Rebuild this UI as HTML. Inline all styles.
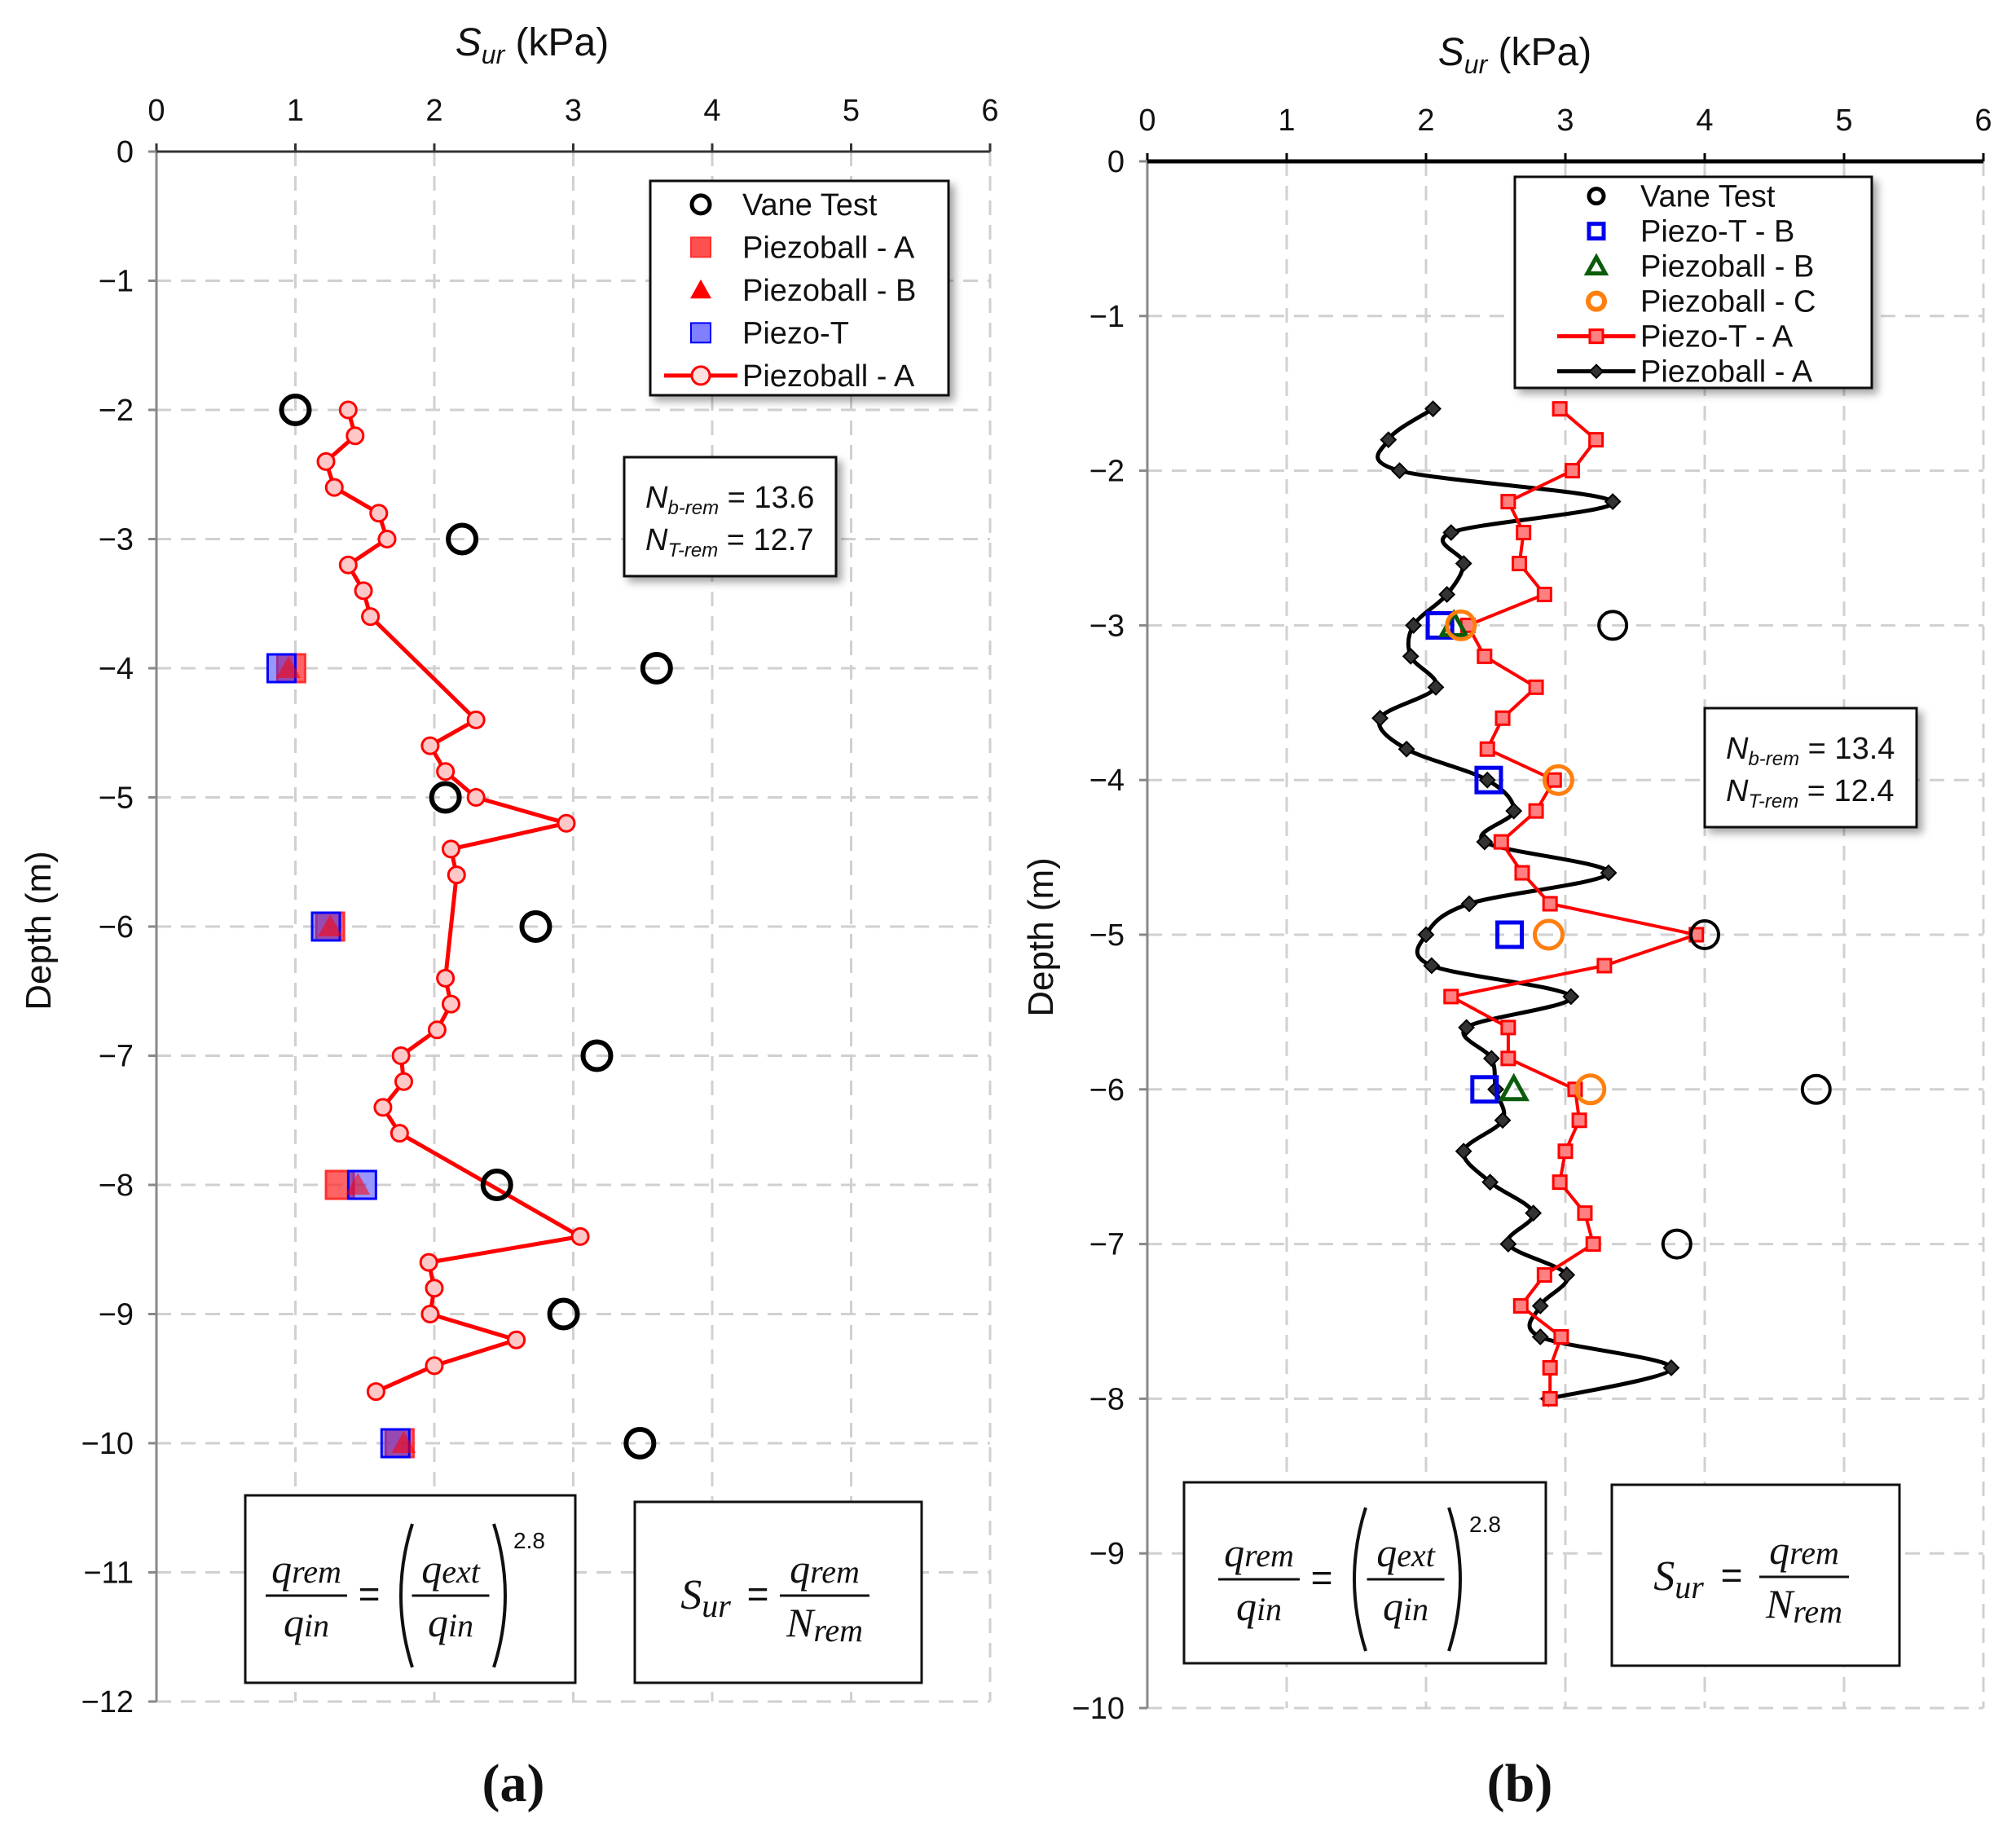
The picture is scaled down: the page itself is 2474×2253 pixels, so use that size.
<!DOCTYPE html>
<html><head><meta charset="utf-8"><style>
html,body{margin:0;padding:0;background:#fff}
svg{display:block}
text{font-family:"Liberation Sans",Arial,sans-serif;fill:#111}
.m{font-family:"Liberation Serif",serif;font-style:italic}
</style></head><body>
<svg id="fig" width="2474" height="2253" viewBox="0 0 2474 2253" xmlns="http://www.w3.org/2000/svg">
<defs>
<filter id="sh" x="-10%" y="-10%" width="130%" height="130%"><feDropShadow dx="6" dy="6" stdDeviation="5" flood-color="#000" flood-opacity="0.35"/></filter>
</defs>
<g id="pa"></g>
<g id="pb"></g>
</svg>
<script>
// ---------- Panel (a) data ----------
const aLineX = [1.38,1.43,1.22,1.28,1.60,1.66,1.38,1.49,1.54,2.30,1.97,2.08,2.30,2.95,2.12,2.16,2.08,2.12,2.02,1.76,1.78,1.63,1.75,3.05,1.96,2.00,1.97,2.59,2.00,1.58];
const aLineD = [-2.0,-2.2,-2.4,-2.6,-2.8,-3.0,-3.2,-3.4,-3.6,-4.4,-4.6,-4.8,-5.0,-5.2,-5.4,-5.6,-6.4,-6.6,-6.8,-7.0,-7.2,-7.4,-7.6,-8.4,-8.6,-8.8,-9.0,-9.2,-9.4,-9.6];
const aVaneX = [1.0,2.2,3.6,2.08,2.73,3.17,2.45,2.93,3.48];
const aVaneD = [-2,-3,-4,-5,-6,-7,-8,-9,-10];
const aPbAX = [0.97,1.25,1.32,1.75];
const aPbAD = [-4,-6,-8,-10];
const aPtX = [0.90,1.22,1.48,1.72];
const aPtD = [-4,-6,-8,-10];
const aPbBX = [0.95,1.25,1.45,1.78];
const aPbBD = [-4,-6,-8,-10];
const aXTicks = [0,1,2,3,4,5,6];
const aYTicks = [0,-1,-2,-3,-4,-5,-6,-7,-8,-9,-10,-11,-12];
// ---------- Panel (b) data ----------
const bRedX = [2.96,3.22,3.05,2.59,2.70,2.67,2.85,2.30,2.42,2.79,2.55,2.44,2.92,2.79,2.54,2.69,2.89,3.94,3.28,2.18,2.59,2.59,3.07,3.10,3.00,2.96,3.14,3.20,2.85,2.68,2.97,2.89,2.89];
const bRedD = [-1.6,-1.8,-2.0,-2.2,-2.4,-2.6,-2.8,-3.0,-3.2,-3.4,-3.6,-3.8,-4.0,-4.2,-4.4,-4.6,-4.8,-5.0,-5.2,-5.4,-5.6,-5.8,-6.0,-6.2,-6.4,-6.6,-6.8,-7.0,-7.2,-7.4,-7.6,-7.8,-8.0];
const bBlkX = [2.05,1.73,1.81,3.34,2.18,2.27,2.15,1.91,1.89,2.07,1.67,1.86,2.44,2.63,2.42,3.31,2.31,2.00,2.04,3.04,2.29,2.47,2.50,2.55,2.27,2.46,2.77,2.59,3.01,2.82,2.82,3.76,2.88];
const bBlkD = [-1.6,-1.8,-2.0,-2.2,-2.4,-2.6,-2.8,-3.0,-3.2,-3.4,-3.6,-3.8,-4.0,-4.2,-4.4,-4.6,-4.8,-5.0,-5.2,-5.4,-5.6,-5.8,-6.0,-6.2,-6.4,-6.6,-6.8,-7.0,-7.2,-7.4,-7.6,-7.8,-8.0];
const bVaneX = [3.34,4.0,4.8,3.8];
const bVaneD = [-3,-5,-6,-7];
const bPtBX = [2.10,2.45,2.60,2.42];
const bPtBD = [-3,-4,-5,-6];
const bPbBX = [2.20,2.63];
const bPbBD = [-3,-6];
const bPbCX = [2.25,2.95,2.88,3.18];
const bPbCD = [-3,-4,-5,-6];
const bXTicks = [0,1,2,3,4,5,6];
const bYTicks = [0,-1,-2,-3,-4,-5,-6,-7,-8,-9,-10];

const NS='http://www.w3.org/2000/svg';
function mk(parent,tag,attrs,txt){const e=document.createElementNS(NS,tag);for(const k in attrs)e.setAttribute(k,attrs[k]);if(txt!==undefined)e.textContent=txt;parent.appendChild(e);return e;}

const A={x0:192,x1:1215,y0:186,yu:158.5,xmin:0,xmax:6};
const B={x0:1408,x1:2434,y0:198,yu:189.8,xmin:0,xmax:6};
function sx(P,v){return P.x0+(v-P.xmin)/(P.xmax-P.xmin)*(P.x1-P.x0);}
function sy(P,d){return P.y0-d*P.yu;}

function axes(g,P,xt,yt,ymin,topColor,topW){
  const grid=mk(g,'g',{});
  
  
  const yb=sy(P,ymin);
  xt.forEach(v=>{ if(v>0) mk(grid,'line',{x1:sx(P,v),x2:sx(P,v),y1:P.y0,y2:yb,stroke:'#d0d0d0','stroke-width':3,'stroke-dasharray':'18 12'});});
  yt.forEach(v=>{ if(v<0) mk(grid,'line',{x1:P.x0,x2:P.x1,y1:sy(P,v),y2:sy(P,v),stroke:'#d0d0d0','stroke-width':3,'stroke-dasharray':'18 12'});});
  const ya=mk(g,'line',{x1:P.x0,x2:P.x0,y1:P.y0,y2:yb,stroke:'#888','stroke-width':3});
  
  
  const xa=mk(g,'line',{x1:P.x0,x2:P.x1,y1:P.y0,y2:P.y0,stroke:topColor,'stroke-width':topW});
  
  
  xt.forEach(v=>{
    mk(g,'line',{x1:sx(P,v),x2:sx(P,v),y1:P.y0-10,y2:P.y0,stroke:topColor,'stroke-width':3});
    const t=mk(g,'text',{x:sx(P,v),y:P.y0-38,'text-anchor':'middle','font-size':38},String(v));
    
    
  });
  yt.forEach(v=>{
    mk(g,'line',{x1:P.x0-10,x2:P.x0,y1:sy(P,v),y2:sy(P,v),stroke:'#888','stroke-width':3});
    const t=mk(g,'text',{x:P.x0-28,y:sy(P,v)+13,'text-anchor':'end','font-size':38},v<0?'\u2212'+(-v):'0');
    
    
  });
}
function title(g,x,y){
  const t=mk(g,'text',{x:x,y:y,'text-anchor':'middle','font-size':48});
  
  
  mk(t,'tspan',{'font-style':'italic'},'S');
  mk(t,'tspan',{'font-style':'italic','font-size':32,dy:10},'ur');
  mk(t,'tspan',{dy:-10},' (kPa)');
}
function ylab(g,x,y){
  const t=mk(g,'text',{x:x,y:y,'text-anchor':'middle','font-size':44,transform:`rotate(-90 ${x} ${y})`},'Depth (m)');
  
  
}
function polyPath(P,xs,ds){return xs.map((v,i)=>(i?'L':'M')+sx(P,v).toFixed(1)+' '+sy(P,ds[i]).toFixed(1)).join(' ');}
function smoothPath(P,xs,ds){
  const p=xs.map((v,i)=>[sx(P,v),sy(P,ds[i])]);
  let s='M'+p[0][0]+' '+p[0][1];
  for(let i=0;i<p.length-1;i++){
    const p0=p[i-1]||p[i],p1=p[i],p2=p[i+1],p3=p[i+2]||p2;
    const c1=[p1[0]+(p2[0]-p0[0])/6,p1[1]+(p2[1]-p0[1])/6];
    const c2=[p2[0]-(p3[0]-p1[0])/6,p2[1]-(p3[1]-p1[1])/6];
    s+=` C${c1[0].toFixed(1)} ${c1[1].toFixed(1)} ${c2[0].toFixed(1)} ${c2[1].toFixed(1)} ${p2[0].toFixed(1)} ${p2[1].toFixed(1)}`;
  }
  return s;
}
function marker(g,type,x,y,o){
  let e;
  if(type==='circle') e=mk(g,'circle',{cx:x,cy:y,r:o.r,fill:o.fill,stroke:o.stroke,'stroke-width':o.sw,'fill-opacity':o.fo||1});
  else if(type==='square') e=mk(g,'rect',{x:x-o.r,y:y-o.r,width:2*o.r,height:2*o.r,fill:o.fill,stroke:o.stroke,'stroke-width':o.sw,'fill-opacity':o.fo||1});
  else if(type==='tri') e=mk(g,'polygon',{points:`${x},${y-o.r} ${x+o.r},${y+o.r*0.8} ${x-o.r},${y+o.r*0.8}`,fill:o.fill,stroke:o.stroke,'stroke-width':o.sw,'fill-opacity':o.fo||1});
  else if(type==='diamond') e=mk(g,'polygon',{points:`${x},${y-o.r} ${x+o.r},${y} ${x},${y+o.r} ${x-o.r},${y}`,fill:o.fill,stroke:o.stroke,'stroke-width':o.sw});
  return e;
}
function series(g,P,name,xs,ds,type,o){
  const s=mk(g,'g',{});
  
  
  xs.forEach((v,i)=>{
    const m=marker(s,type,sx(P,v),sy(P,ds[i]),o);
    
    
  });
  return s;
}
function legend(g,x,y,w,h,entries,rowH,fs,mOff,tOff,lineHalf){
  const L=mk(g,'g',{});
  
  
  mk(L,'rect',{x:x,y:y,width:w,height:h,fill:'#fff',stroke:'#111','stroke-width':3,filter:'url(#sh)'});
  entries.forEach((e,i)=>{
    const cy=y+rowH*0.55+i*rowH, mx=x+mOff;
    const eg=mk(L,'g',{});
    
    
    if(e.line) mk(eg,'line',{x1:mx-lineHalf,x2:mx+lineHalf,y1:cy,y2:cy,stroke:e.line,'stroke-width':5});
    marker(eg,e.type,mx,cy,e.o);
    mk(eg,'text',{x:x+tOff,y:cy+13,'font-size':fs},e.label);
  });
}
function nbox(g,x,y,w,h,v1,v2){
  const N=mk(g,'g',{});
  
  
  mk(N,'rect',{x:x,y:y,width:w,height:h,fill:'#fff',stroke:'#111','stroke-width':3,filter:'url(#sh)'});
  [['b-rem',v1],['T-rem',v2]].forEach((r,i)=>{
    const t=mk(N,'text',{x:x+26,y:y+62+i*52,'font-size':38});
    mk(t,'tspan',{'font-style':'italic'},'N');
    mk(t,'tspan',{'font-style':'italic','font-size':24,dy:8},r[0]);
    mk(t,'tspan',{dy:-8},' = '+r[1]);
  });
}
function frac(g,cx,cy,num,nsub,den,dsub,w){
  mk(g,'line',{x1:cx-w/2,x2:cx+w/2,y1:cy,y2:cy,stroke:'#111','stroke-width':3});
  const t1=mk(g,'text',{x:cx,y:cy-16,'text-anchor':'middle','font-size':50,class:'m'});
  mk(t1,'tspan',{},num);mk(t1,'tspan',{'font-size':40},nsub);
  const t2=mk(g,'text',{x:cx,y:cy+50,'text-anchor':'middle','font-size':50,class:'m'});
  mk(t2,'tspan',{},den);mk(t2,'tspan',{'font-size':40,dy:den==='N'?6:0},dsub);
}
function formulas(g,b1,b2,c1,c2){
  const F1=mk(g,'g',{});
  
  
  mk(F1,'rect',{x:b1[0],y:b1[1],width:b1[2],height:b1[3],fill:'#fff',stroke:'#111','stroke-width':3});
  const cy=c1.cy;
  frac(F1,c1.f1,cy,'q','rem','q','in',100);
  mk(F1,'text',{x:c1.eq,y:cy+14,'text-anchor':'middle','font-size':46},'=');
  mk(F1,'path',{d:`M${c1.p1+14} ${cy-88} Q${c1.p1-14} ${cy} ${c1.p1+14} ${cy+88}`,fill:'none',stroke:'#111','stroke-width':4});
  mk(F1,'path',{d:`M${c1.p2-14} ${cy-88} Q${c1.p2+14} ${cy} ${c1.p2-14} ${cy+88}`,fill:'none',stroke:'#111','stroke-width':4});
  frac(F1,c1.f2,cy,'q','ext','q','in',95);
  mk(F1,'text',{x:c1.ex,y:c1.ey,'font-size':28},'2.8');
  const F2=mk(g,'g',{});
  
  
  mk(F2,'rect',{x:b2[0],y:b2[1],width:b2[2],height:b2[3],fill:'#fff',stroke:'#111','stroke-width':3});
  const t=mk(F2,'text',{x:c2.s,y:c2.cy+16,'text-anchor':'middle','font-size':52,class:'m'});
  mk(t,'tspan',{},'S');mk(t,'tspan',{'font-size':40,dy:10},'ur');
  mk(F2,'text',{x:c2.eq,y:c2.cy+14,'text-anchor':'middle','font-size':46},'=');
  frac(F2,c2.f,c2.cy,'q','rem','N','rem',110);
}
function plabel(g,x,y,s){
  const t=mk(g,'text',{x:x,y:y,'text-anchor':'middle','font-size':66,'font-weight':'bold'},s);
  t.style.fontFamily='"Liberation Serif",serif';
  
  
}

// ---------- Panel (a) ----------
const ga=document.getElementById('pa');
title(ga,653,68);
ylab(ga,62,1142);
axes(ga,A,aXTicks,aYTicks,-12,'#333',3);
const red='#ff0000';
const la=mk(ga,'path',{d:polyPath(A,aLineX,aLineD),fill:'none',stroke:red,'stroke-width':5,'stroke-linejoin':'round'});


series(ga,A,'piezoball-a-line-markers',aLineX,aLineD,'circle',{r:10,fill:'#ffc8c8',stroke:red,sw:3});
series(ga,A,'vane-test',aVaneX,aVaneD,'circle',{r:17,fill:'none',stroke:'#000',sw:6});
series(ga,A,'piezoball-a-points',aPbAX,aPbAD,'square',{r:17,fill:'#ff3030',stroke:'#ff3030',sw:3,fo:0.75});
series(ga,A,'piezo-t-points',aPtX,aPtD,'square',{r:17,fill:'#3030ff',stroke:'#0000ff',sw:3,fo:0.5});
series(ga,A,'piezoball-b-points',aPbBX,aPbBD,'tri',{r:15,fill:'#ff0000',stroke:'none',sw:0,fo:0.55});
legend(ga,798,222,366,263,[
 {type:'circle',o:{r:11,fill:'none',stroke:'#000',sw:5},label:'Vane Test'},
 {type:'square',o:{r:12,fill:'#ff5050',stroke:'#ff3030',sw:2},label:'Piezoball - A'},
 {type:'tri',o:{r:13,fill:'#ff0000',stroke:'none',sw:0},label:'Piezoball - B'},
 {type:'square',o:{r:12,fill:'#8080ff',stroke:'#0000ff',sw:2},label:'Piezo-T'},
 {type:'circle',line:red,o:{r:11,fill:'#ffe0e0',stroke:red,sw:3},label:'Piezoball - A'}
],52.5,38,62,113,45);
nbox(ga,766,561,260,146,'13.6','12.7');
formulas(ga,[301,1835,405,230],[779,1843,352,222],
 {cy:1958,f1:376,eq:453,p1:492,p2:620,f2:553,ex:630,ey:1900},
 {cy:1958,s:866,eq:930,f:1012});
plabel(ga,630,2210,'(a)');

// ---------- Panel (b) ----------
const gb=document.getElementById('pb');
title(gb,1859,80);
ylab(gb,1292,1150);
axes(gb,B,bXTicks,bYTicks,-10,'#000',5);
const lb=mk(gb,'path',{d:smoothPath(B,bBlkX,bBlkD),fill:'none',stroke:'#000','stroke-width':5});


series(gb,B,'piezoball-a-markers',bBlkX,bBlkD,'diamond',{r:9,fill:'#333',stroke:'#000',sw:2});
const lr=mk(gb,'path',{d:polyPath(B,bRedX,bRedD),fill:'none',stroke:red,'stroke-width':4,'stroke-linejoin':'round'});


series(gb,B,'piezo-t-a-markers',bRedX,bRedD,'square',{r:8,fill:'#ff8080',stroke:red,sw:3});
series(gb,B,'vane-test',bVaneX,bVaneD,'circle',{r:17,fill:'none',stroke:'#000',sw:4});
series(gb,B,'piezo-t-b-points',bPtBX,bPtBD,'square',{r:15,fill:'none',stroke:'#0000ee',sw:5});
series(gb,B,'piezoball-b-points',bPbBX,bPbBD,'tri',{r:15,fill:'none',stroke:'#0a5c0a',sw:5});
series(gb,B,'piezoball-c-points',bPbCX,bPbCD,'circle',{r:17,fill:'none',stroke:'#ff7f0e',sw:5});
legend(gb,1859,217,438,259,[
 {type:'circle',o:{r:9,fill:'none',stroke:'#000',sw:5},label:'Vane Test'},
 {type:'square',o:{r:9,fill:'none',stroke:'#0000ee',sw:5},label:'Piezo-T - B'},
 {type:'tri',o:{r:11,fill:'none',stroke:'#0a5c0a',sw:5},label:'Piezoball - B'},
 {type:'circle',o:{r:10,fill:'none',stroke:'#ff7f0e',sw:6},label:'Piezoball - C'},
 {type:'square',line:red,o:{r:8,fill:'#ff8080',stroke:red,sw:3},label:'Piezo-T - A'},
 {type:'diamond',line:'#000',o:{r:8,fill:'#333',stroke:'#000',sw:2},label:'Piezoball - A'}
],43,38,100,154,48);
nbox(gb,2092,869,260,146,'13.4','12.4');
formulas(gb,[1453,1819,444,222],[1978,1822,353,222],
 {cy:1938,f1:1545,eq:1622,p1:1662,p2:1792,f2:1725,ex:1803,ey:1880},
 {cy:1935,s:2060,eq:2125,f:2214});
plabel(gb,1865,2210,'(b)');
</script>
</body></html>
